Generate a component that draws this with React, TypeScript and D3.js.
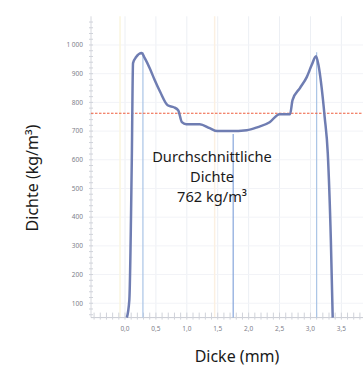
import React from "react";
import * as d3 from "d3";

// density profile
const thickness = [0.03, 0.07, 0.11, 0.13, 0.18, 0.27, 0.32, 0.40, 0.48, 0.57, 0.69, 0.79, 0.86, 0.92, 0.99, 1.21, 1.37, 1.49, 1.70, 1.97, 2.15, 2.34, 2.50, 2.67, 2.71, 2.83, 2.94, 3.02, 3.09, 3.13, 3.18, 3.23, 3.28, 3.33, 3.36];
const density = [50, 111, 600, 937, 958, 972, 954, 919, 878, 836, 790, 783, 773, 731, 724, 724, 710, 700, 700, 703, 714, 731, 759, 759, 808, 850, 888, 930, 961, 930, 853, 749, 623, 320, 50];
const averageDensity = 762;
const markerLines = [0.29, 1.75, 3.1];
const yTicks = [100, 200, 300, 400, 500, 600, 700, 800, 900, 1000];
const xTicks = [0, 0.5, 1, 1.5, 2, 2.5, 3, 3.5];
const noteLines = ["Durchschnittliche", "Dichte", `${averageDensity} kg/m³`];

const font = "'Noto Sans', 'Open Sans', sans-serif";

export default function App() {
  const width = 363;
  const height = 370;

  const x = d3.scaleLinear().domain([-0.55, 3.85]).range([91, 363]);
  const y = d3.scaleLinear().domain([50, 1100]).range([317.6, 16.3]);

  const line = d3
    .line<number>()
    .x((d, i) => x(thickness[i]))
    .y((d) => y(d))
    .curve(d3.curveMonotoneX);

  const minorY = d3.range(60, 1100, 20);
  const minorX = d3.range(-0.5, 3.85, 0.1);
  const fmtX = (v: number) => v.toFixed(1).replace(".", ",");
  const fmtY = (v: number) => (v >= 1000 ? "1 000" : String(v));

  return (
    <svg width={width} height={height} style={{ position: "absolute", left: 0, top: 0, background: "#fff" }}>
      {/* grid */}
      {xTicks.map((t) => (
        <line key={"gx" + t} x1={x(t)} x2={x(t)} y1={y(1100)} y2={y(50)} stroke="#eceff4" strokeWidth={1} />
      ))}
      {yTicks.map((t) => (
        <line key={"gy" + t} x1={x(-0.55)} x2={363} y1={y(t)} y2={y(t)} stroke="#f2f3f7" strokeWidth={1} />
      ))}
      {/* faint coloured guides */}
      <line x1={x(-0.08)} x2={x(-0.08)} y1={y(1100)} y2={y(50)} stroke="#faf5df" strokeWidth={1.5} />
      <line x1={x(1.45)} x2={x(1.45)} y1={y(1100)} y2={y(50)} stroke="#fbf0e2" strokeWidth={1.5} />

      {/* axes */}
      <line x1={x(-0.55)} x2={x(-0.55)} y1={y(1100)} y2={y(50)} stroke="#d6d8de" strokeWidth={1} />
      <line x1={x(-0.55)} x2={363} y1={y(50)} y2={y(50)} stroke="#c8cbd2" strokeWidth={1} />
      {minorY.map((t) => (
        <line key={"my" + t} x1={x(-0.55) - 2} x2={x(-0.55) + 2} y1={y(t)} y2={y(t)} stroke="#d0d3da" strokeWidth={1} />
      ))}
      {minorX.map((t) => (
        <line key={"mx" + t} x1={x(t)} x2={x(t)} y1={y(50) - 5} y2={y(50) + 2} stroke="#d0d3da" strokeWidth={1} />
      ))}
      {yTicks.map((t) => (
        <text key={"ty" + t} x={83} y={y(t)} dy="0.35em" textAnchor="end" fontSize={6.5} fill="#7d808a" fontFamily={font}>
          {fmtY(t)}
        </text>
      ))}
      {xTicks.map((t) => (
        <text key={"tx" + t} x={x(t)} y={329} dy="0.35em" textAnchor="middle" fontSize={6.5} fill="#7d808a" fontFamily={font}>
          {fmtX(t)}
        </text>
      ))}

      {/* vertical marker lines */}
      {markerLines.map((t, i) => (
        <line key={"ml" + t} x1={x(t)} x2={x(t)} y1={i === 1 ? y(690) : y(975)} y2={y(50)} stroke={i === 1 ? "#86a6dc" : "#a9c4e6"} strokeWidth={1.2} />
      ))}

      {/* average */}
      <line x1={x(-0.55)} x2={363} y1={y(averageDensity)} y2={y(averageDensity)} stroke="#ee5e3e" strokeWidth={1.1} strokeDasharray="2.5,1.5" />

      {/* profile */}
      <path d={line(density) || ""} fill="none" stroke="#6f7db2" strokeWidth={2.5} strokeLinejoin="round" />

      {/* labels */}
      {noteLines.map((s, i) => (
        <text key={s} x={212} y={162 + i * 19.8} fontFamily={font} fontSize={14.6} fill="#1a1a1a" textAnchor="middle">
          {s}
        </text>
      ))}
      <text x={237} y={362} fontFamily={font} fontSize={16} fill="#1a1a1a" textAnchor="middle">
        Dicke (mm)
      </text>
      <text transform="translate(38,178) rotate(-90)" fontFamily={font} fontSize={16} fill="#1a1a1a" textAnchor="middle">
        Dichte (kg/m³)
      </text>
    </svg>
  );
}
